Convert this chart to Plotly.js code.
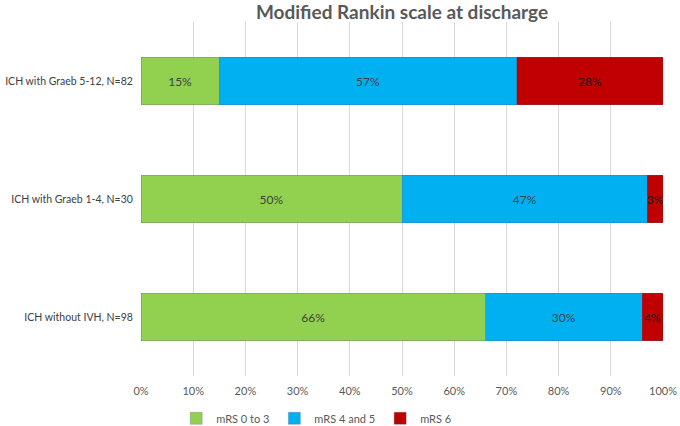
<!DOCTYPE html>
<html>
<head>
<meta charset="utf-8">
<script src="https://cdn.plot.ly/plotly-3.0.1.min.js"></script>
<style>
  html, body { margin: 0; padding: 0; background: #fff; }
  #chart { width: 680px; height: 426px; }
</style>
</head>
<body>
<div id="chart"></div>
<script>
// categories, bottom to top as plotly draws them
var groups = ['ICH without IVH, N=98', 'ICH with Graeb 1-4, N=30', 'ICH with Graeb 5-12, N=82'];

var mrs03 = [66, 50, 15];   // mRS 0 to 3
var mrs45 = [30, 47, 57];   // mRS 4 and 5
var mrs6 = [4, 3, 28];      // mRS 6

var seriesNames = ['mRS 0 to 3', 'mRS 4 and 5', 'mRS 6'];
var seriesColors = ['#92D050', '#00B0F0', '#C00000'];
var labelColors = ['#404040', '#404040', '#1a1a1a'];

var xTicks = [0, 10, 20, 30, 40, 50, 60, 70, 80, 90, 100];

var FONT = 'Lato, "Open Sans", sans-serif';

function makeTrace(vals, i) {
    return {
        type: 'bar',
        orientation: 'h',
        name: seriesNames[i],
        y: groups,
        x: vals,
        width: 0.4,
        text: vals.map(function(v) { return v + '%'; }),
        textposition: 'inside',
        insidetextanchor: 'middle',
        textangle: 0,
        constraintext: 'none',
        cliponaxis: false,
        textfont: { family: FONT, size: 12, color: labelColors[i] },
        marker: { color: seriesColors[i], line: { color: 'rgba(90,90,140,0.35)', width: 0.8 } },
        hoverinfo: 'none'
    };
}

var data = [makeTrace(mrs03, 0), makeTrace(mrs45, 1), makeTrace(mrs6, 2)];

var layout = {
    width: 680,
    height: 426,
    barmode: 'stack',
    paper_bgcolor: '#fff',
    plot_bgcolor: '#fff',
    margin: { l: 141, r: 17, t: 22, b: 50, pad: 0 },
    showlegend: true,
    title: {
        text: '<b>Modified Rankin scale at discharge</b>',
        font: { family: FONT, size: 19, color: '#595959' },
        x: 0.5,
        xref: 'paper',
        xanchor: 'center',
        y: 0.97,
        yref: 'container',
        yanchor: 'middle'
    },
    xaxis: {
        range: [0, 100],
        tickvals: xTicks,
        ticktext: xTicks.map(function(v) { return v + '%'; }),
        showgrid: true,
        gridcolor: '#d9d9d9',
        gridwidth: 1,
        zeroline: false,
        showline: false,
        ticks: 'outside',
        ticklen: 5,
        tickcolor: 'rgba(0,0,0,0)',
        tickfont: { family: FONT, size: 11, color: '#595959' },
        fixedrange: true
    },
    yaxis: {
        range: [-0.5, 2.5],
        showgrid: false,
        zeroline: false,
        showline: false,
        ticks: 'outside',
        ticklen: 5,
        tickcolor: 'rgba(0,0,0,0)',
        tickfont: { family: FONT, size: 10.5, color: '#404040' },
        automargin: false,
        fixedrange: true
    },
    legend: {
        orientation: 'h',
        x: 0.465,
        xref: 'container',
        xanchor: 'center',
        y: 0.018,
        yref: 'container',
        yanchor: 'middle',
        traceorder: 'normal',
        font: { family: FONT, size: 11, color: '#595959' },
        itemwidth: 30,
        entrywidth: 0
    }
};

Plotly.newPlot('chart', data, layout, { displayModeBar: false, staticPlot: true });
</script>
</body>
</html>
